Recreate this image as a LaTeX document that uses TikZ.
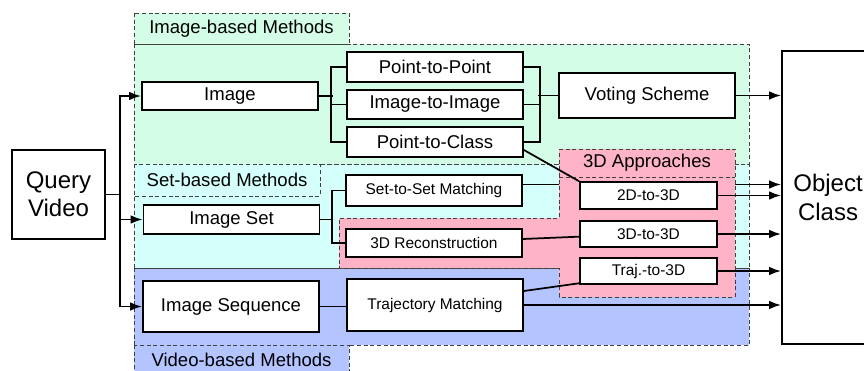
\documentclass[tikz,border=0pt]{standalone}
\usepackage{fontspec}
\setmainfont{Liberation Sans}
\usetikzlibrary{arrows.meta,backgrounds}
\definecolor{imggreen}{HTML}{D3FDE6}
\definecolor{setcyan}{HTML}{D5FFFB}
\definecolor{vidblue}{HTML}{B3C4FF}
\definecolor{appink}{HTML}{FFB3C6}
\begin{document}
\begin{tikzpicture}[x=0.75pt,y=-0.75pt,
    box/.style={draw,line width=1.4pt,fill=white,inner sep=0pt,minimum width=132pt,minimum height=22pt},
    smallbox/.style={box,font=\fontsize{11.6}{14}\selectfont},
    region/.style={draw=black!75,dash pattern=on 3pt off 2pt,line width=0.7pt},
    link/.style={line width=1.3pt},
    arr/.style={link,-{Latex[length=9pt,width=6.5pt]}},
    every node/.style={font=\fontsize{13.9}{16}\selectfont}]
    \useasboundingbox (0,0) rectangle (864,371);
    % inputs and outputs
    \node[box,minimum width=69.75pt,minimum height=66.75pt,align=center,
        font=\fontsize{18}{21}\selectfont] (query) at (58.5,194.5) {Query\\Video};
    \node[box,minimum width=69pt,minimum height=219.75pt,align=center,
        font=\fontsize{18}{22}\selectfont] (object) at (828,197.5) {Object\\Class};
    % image-based
    \node[box,minimum height=21pt] (image) at (230,96) {Image};
    \node[box] (p2p) at (435,67) {Point-to-Point};
    \node[box] (i2i) at (435,104.5) {Image-to-Image};
    \node[box] (p2c) at (435,142) {Point-to-Class};
    \node[box,minimum height=33.75pt] (voting) at (647,95.5) {Voting Scheme};
    % set-based
    \node[box] (imgset) at (231.5,219.5) {Image Set};
    \node[smallbox,minimum height=23pt] (s2s) at (434,190.5) {Set-to-Set Matching};
    \node[smallbox,minimum height=21pt] (recon) at (434,243) {3D Reconstruction};
    % 3d approaches
    \node[smallbox,minimum width=102.75pt,minimum height=20pt] (d2d3) at (648.5,195.5) {2D-to-3D};
    \node[smallbox,minimum width=102.75pt,minimum height=20pt] (d3d3) at (648.5,234) {3D-to-3D};
    \node[smallbox,minimum width=102.75pt,minimum height=20pt] (traj3d) at (648.5,271) {Traj.-to-3D};
    % video-based
    \node[box,minimum height=38.25pt] (imgseq) at (231,306.5) {Image Sequence};
    \node[smallbox,minimum height=39pt] (trajm) at (435,305) {Trajectory Matching};
    \begin{pgfonlayer}{background}
        \fill[imggreen] (134,44) rectangle (749,164);
        \fill[setcyan] (134,164) rectangle (749,268);
        \fill[vidblue] (134,268) rectangle (749,345);
        \draw[region] (134,44) rectangle (749,164);
        \draw[region] (134,164) rectangle (749,268);
        \draw[region] (134,268) rectangle (749,345);
        \draw[region,fill=imggreen] (134,13) rectangle (349,44);
        \draw[region,fill=setcyan] (134,164) rectangle (320,196);
        \draw[region,fill=vidblue] (134,345) rectangle (349,375);
        \draw[arr] ([yshift=4.5pt]s2s.east) -- ([yshift=4.5pt]s2s.east -| object.west);
        \draw[region,fill=appink] (559,149) -- (735,149) -- (735,297) -- (559,297) -- (559,268)
            -- (339,268) -- (339,218) -- (559,218) -- cycle;
        \draw[region] (559,177) -- (735,177);
    \end{pgfonlayer}
    \node at (241.5,28.5) {Image-based Methods};
    \node at (227,180) {Set-based Methods};
    \node at (647,163) {3D Approaches};
    \node at (241.5,360) {Video-based Methods};
    % connectors
    \coordinate (split) at (120,194.5);
    \draw[link] (query) -- (split);
    \draw[arr] (split) |- (image);
    \draw[arr] (split) |- (imgset);
    \draw[arr] (split) |- (imgseq);
    \draw[link] (image.east) -- ++(14,0);
    \draw[link] (p2p.west) -- ++(-15,0) |- (p2c.west);
    \draw[link] (i2i.west) -- ++(-15,0);
    \draw[link] (p2p.east) -- ++(16,0) |- (p2c.east);
    \draw[link] (i2i.east) -- ++(16,0);
    \draw[link] (voting.west) -- ++(-20,0);
    \draw[arr] (voting.east) -- (voting.east -| object.west);
    \draw[link] (imgset.east) -- ++(13,0);
    \draw[link] (s2s.west) -- ++(-13,0) |- (recon.west);
    \draw[link] ([yshift=-6pt]p2c.east) -- (d2d3.north west);
    \draw[link] ([yshift=3pt]recon.east) -- ([yshift=-2pt]d3d3.west);
    \draw[link] ([yshift=10.5pt]trajm.east) -- ([yshift=1.5pt]traj3d.south west);
    \draw[link] (imgseq.east) -- (imgseq.east -| trajm.west);
    \draw[arr] (d2d3.east) -- (d2d3.east -| object.west);
    \draw[arr] (d3d3.east) -- (d3d3.east -| object.west);
    \draw[arr] (traj3d.east) -- (traj3d.east -| object.west);
    \draw[arr] (trajm.east) -- (trajm.east -| object.west);
\end{tikzpicture}
\end{document}
